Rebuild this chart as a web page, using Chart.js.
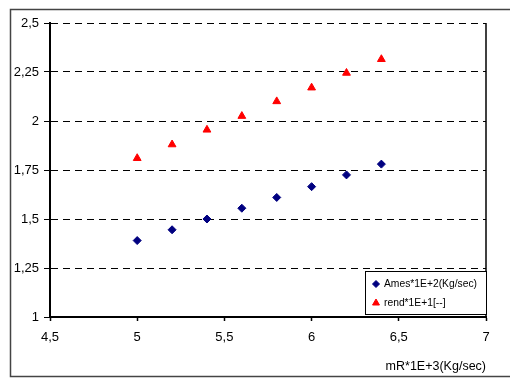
<!DOCTYPE html>
<html>
<head>
<meta charset="utf-8">
<script src="https://cdn.jsdelivr.net/npm/chart.js@4/dist/chart.umd.min.js"></script>
<style>
  html, body { margin: 0; padding: 0; background: #fff; }
  canvas { display: block; }
</style>
</head>
<body>
<canvas id="chart" width="510" height="379"></canvas>
<script>
// data
const massFlow = [5, 5.2, 5.4, 5.6, 5.8, 6.0, 6.2, 6.4];
const ames = [1.39, 1.445, 1.50, 1.555, 1.61, 1.665, 1.725, 1.78];
const rend = [1.81, 1.88, 1.955, 2.025, 2.10, 2.17, 2.245, 2.315];
const seriesNames = ['Ames*1E+2(Kg/sec)', 'rend*1E+1[--]'];
const xTitle = 'mR*1E+3(Kg/sec)';

const FONT = '"Liberation Sans", Arial, sans-serif';
const comma = v => String(v).replace('.', ',');

// outer frame, solid axes and right edge of plot area
const framePlugin = {
  id: 'frame',
  beforeDraw(chart) {
    const c = chart.ctx;
    c.save();
    c.fillStyle = '#fff';
    c.fillRect(0, 0, chart.width, chart.height);
    c.strokeStyle = '#444';
    c.lineWidth = 1.5;
    c.strokeRect(10.5, 9.5, 520, 367);
    c.restore();
  },
  afterDraw(chart) {
    const c = chart.ctx;
    const a = chart.chartArea;
    c.save();
    c.setLineDash([]);
    c.strokeStyle = '#000';
    c.lineWidth = 2;
    c.beginPath();
    c.moveTo(a.left, a.top);
    c.lineTo(a.left, a.bottom);
    c.lineTo(a.right, a.bottom);
    c.stroke();
    c.lineWidth = 1.5;
    c.beginPath();
    c.moveTo(a.right, a.top);
    c.lineTo(a.right, a.bottom);
    c.stroke();
    c.restore();
  }
};

// boxed legend sitting in the bottom-right of the plot
const boxLegend = {
  id: 'boxLegend',
  afterDraw(chart) {
    const c = chart.ctx;
    const a = chart.chartArea;
    const w = 121, h = 43;
    const x = a.right - w, y = a.bottom - 3 - h;
    c.save();
    c.fillStyle = '#fff';
    c.fillRect(x, y, w, h);
    c.strokeStyle = '#000';
    c.lineWidth = 1;
    c.strokeRect(x + 0.5, y + 0.5, w, h);
    c.font = '10.3px ' + FONT;
    c.textBaseline = 'middle';
    chart.data.datasets.forEach((ds, i) => {
      const ry = y + 13 + i * 19;
      c.fillStyle = ds.backgroundColor;
      c.strokeStyle = ds.borderColor;
      Chart.helpers.drawPoint(c, { pointStyle: ds.pointStyle, radius: ds.pointRadius - 0.5, borderWidth: 1 }, x + 11, ry);
      c.fillStyle = '#000';
      c.fillText(ds.label, x + 19, ry);
    });
    c.restore();
  }
};

new Chart(document.getElementById('chart'), {
  type: 'scatter',
  data: {
    datasets: [
      {
        label: seriesNames[0],
        data: massFlow.map((x, i) => ({ x, y: ames[i] })),
        pointStyle: 'rectRot',
        pointRadius: 4,
        backgroundColor: '#000080',
        borderColor: '#000080'
      },
      {
        label: seriesNames[1],
        data: massFlow.map((x, i) => ({ x, y: rend[i] })),
        pointStyle: 'triangle',
        pointRadius: 4.5,
        backgroundColor: '#ff0000',
        borderColor: '#ff0000'
      }
    ]
  },
  options: {
    responsive: false,
    animation: false,
    layout: { padding: { left: 0, top: 23, right: 24, bottom: 0 } },
    plugins: {
      legend: { display: false },
      tooltip: { enabled: false }
    },
    scales: {
      x: {
        type: 'linear',
        min: 4.5,
        max: 7,
        afterFit: s => { s.height = 62; },
        ticks: {
          stepSize: 0.5,
          padding: 9,
          color: '#000',
          font: { family: FONT, size: 13 },
          callback: v => comma(v)
        },
        grid: { drawOnChartArea: false, drawTicks: true, tickLength: 4, tickColor: '#000', tickWidth: 1.5 },
        border: { display: true, color: '#000', width: 2 },
        title: {
          display: true,
          text: xTitle,
          align: 'end',
          color: '#000',
          font: { family: FONT, size: 12.5 },
          padding: { top: 0, bottom: 5 }
        }
      },
      y: {
        min: 1,
        max: 2.5,
        afterFit: s => { s.width = 50; },
        ticks: {
          stepSize: 0.25,
          padding: 5,
          color: '#000',
          font: { family: FONT, size: 13 },
          callback: v => comma(v)
        },
        grid: { color: '#000', lineWidth: 1, tickLength: 6, tickColor: '#000', tickWidth: 1 },
        border: { display: true, color: '#000', width: 2, dash: [7, 5] }
      }
    }
  },
  plugins: [framePlugin, boxLegend]
});
</script>
</body>
</html>
